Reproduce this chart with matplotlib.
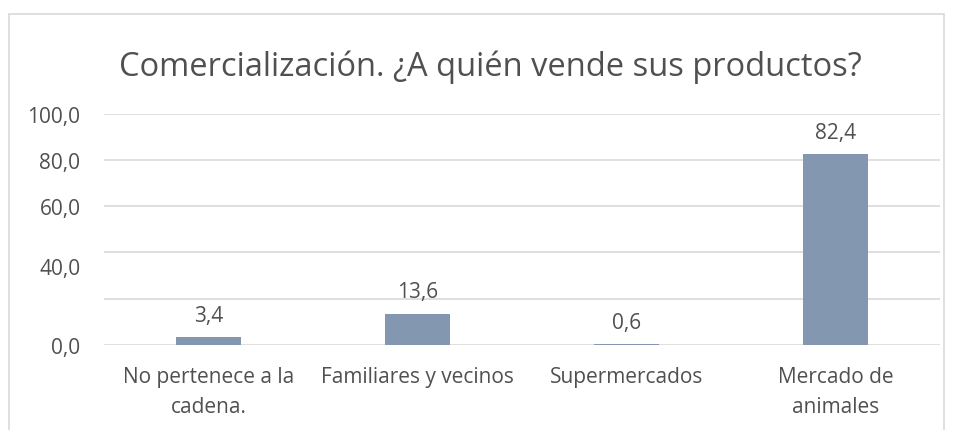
import matplotlib.pyplot as plt
from matplotlib.patches import Rectangle

plt.rcParams['font.family'] = ['Open Sans', 'DejaVu Sans']

categories = ["No pertenece a la\ncadena.", "Familiares y vecinos",
              "Supermercados", "Mercado de\nanimales"]
values = [3.4, 13.6, 0.6, 82.4]
value_labels = ["3,4", "13,6", "0,6", "82,4"]
grid_ticks = [0, 20, 40, 60, 80, 100]
tick_labels = ["0,0", "", "", "60,0", "80,0", "100,0"]
title = "Comercialización. ¿A quién vende sus productos?"

text_color = "#505050"
bar_color = "#8497B0"
grid_color = "#D9D9D9"

fig = plt.figure(figsize=(9.54, 4.31), dpi=100)
W, H = 954, 431
ax = fig.add_axes([104 / W, 1 - 346 / H, 836 / W, (346 - 114.7) / H])

# outer chart frame (bottom edge runs off the picture)
fig.patches.append(Rectangle((9 / W, -0.1), (944 - 9) / W, 1.1 - 15 / H,
                             transform=fig.transFigure, fill=False,
                             edgecolor=grid_color, linewidth=1.2))

x = range(len(categories))
ax.bar(x, values, width=0.31, color=bar_color, zorder=3)
for xi, v, lab in zip(x, values, value_labels):
    ax.annotate(lab, (xi, v), xytext=(0, 8), textcoords="offset points",
                ha="center", va="bottom", fontsize=15, color=text_color)

ax.set_xlim(-0.5, len(categories) - 0.5)
ax.set_ylim(0, 100)
ax.set_yticks(grid_ticks)
ax.set_yticklabels(tick_labels)
# the "40,0" label sits lower than its gridline in the original
ax.text(-0.0275, 33, "40,0", transform=ax.get_yaxis_transform(),
        ha="right", va="center", fontsize=15, color=text_color)
ax.set_xticks(list(x))
ax.set_xticklabels(categories, linespacing=1.55)

ax.grid(axis="y", color=grid_color, linewidth=1.2, zorder=0)
for s in ax.spines.values():
    s.set_visible(False)
ax.tick_params(axis="both", length=0, colors=text_color, labelsize=15)
ax.tick_params(axis="y", pad=17)
ax.tick_params(axis="x", pad=15)

fig.text(490 / W, 1 - 67 / H, title, ha="center", va="center",
         fontsize=23.5, color=text_color)

fig.savefig("out.png", dpi=100)
